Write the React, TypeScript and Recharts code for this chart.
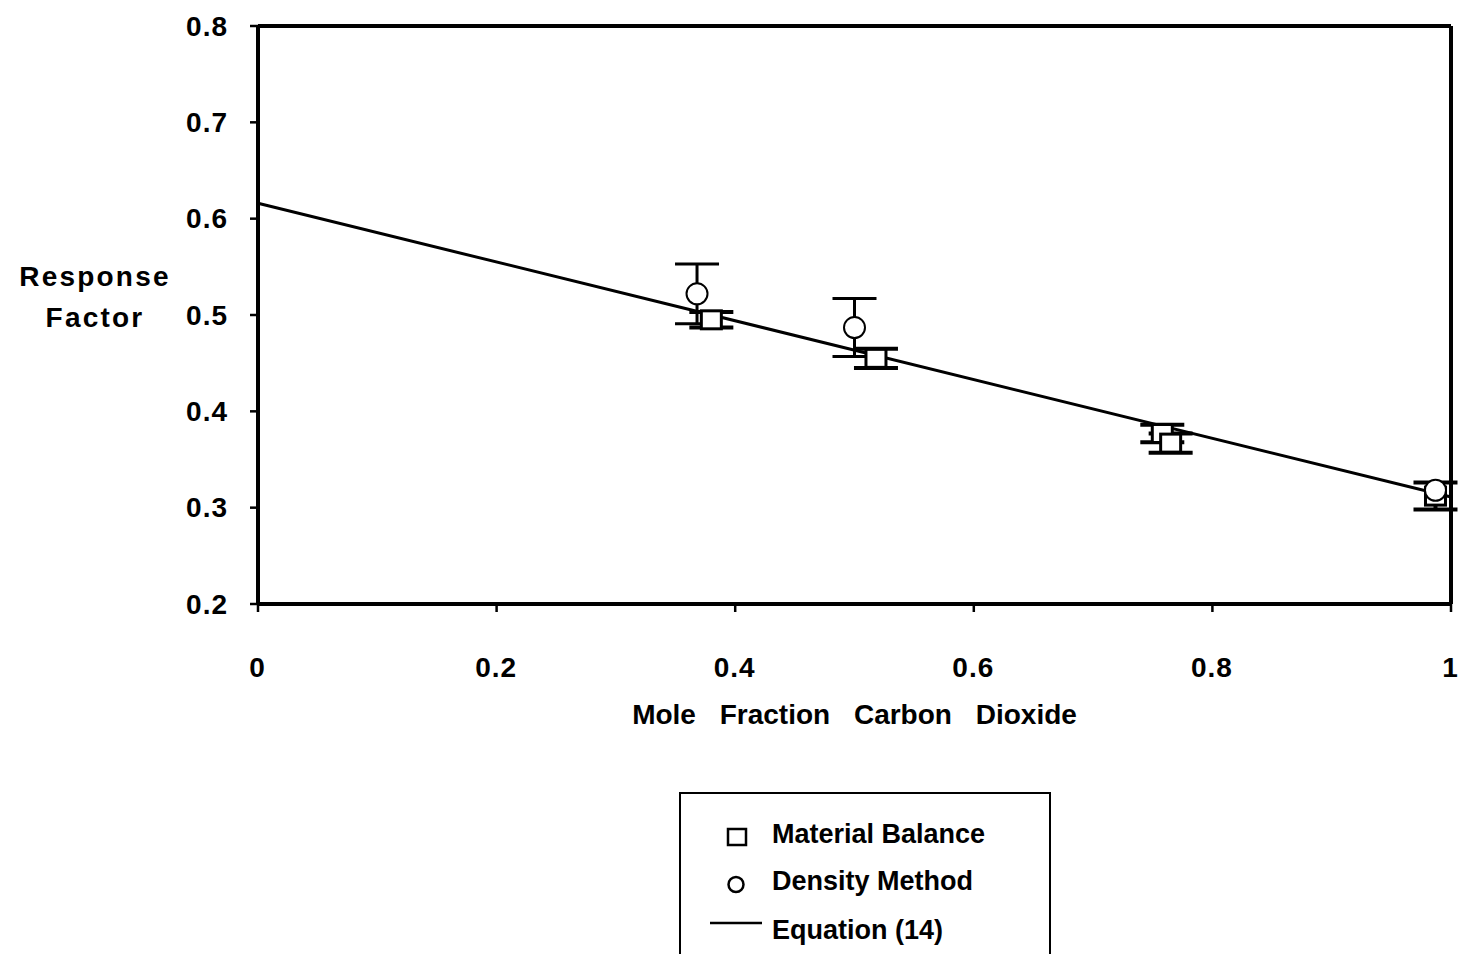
import React from 'react';
import {
  ComposedChart,
  XAxis,
  YAxis,
  Line,
  Scatter,
  ErrorBar,
  Legend,
  Label,
  ReferenceLine
} from 'recharts';

// Values
const xTicks = [0, 0.2, 0.4, 0.6, 0.8, 1];
const yTicks = [0.2, 0.3, 0.4, 0.5, 0.6, 0.7, 0.8];

// Material Balance (squares)
const mbX = [0.38, 0.518, 0.758, 0.765, 0.987];
const mbY = [0.495, 0.455, 0.377, 0.367, 0.312];
const mbErr = [0.008, 0.01, 0.009, 0.01, 0.014];

// Density Method (circles)
const dmX = [0.368, 0.5, 0.987];
const dmY = [0.522, 0.487, 0.318];
const dmErr = [0.031, 0.03, 0];

// Equation (14) end points
const eqX = [0, 1];
const eqY = [0.616, 0.311];

const materialBalance = mbX.map((x, i) => ({ x, y: mbY[i], err: mbErr[i] }));
const densityMethod = dmX.map((x, i) => ({ x, y: dmY[i], err: dmErr[i] }));
const equation = eqX.map((x, i) => ({ x, y: eqY[i] }));

const FONT = '"Liberation Sans", Arial, sans-serif';

const SquareShape = (props: any) => {
  const { cx, cy } = props;
  if (cx == null || cy == null) return null;
  return <rect x={cx - 10} y={cy - 9} width={20} height={18} fill="#fff" stroke="#000" strokeWidth={3} />;
};

const CircleShape = (props: any) => {
  const { cx, cy } = props;
  if (cx == null || cy == null) return null;
  return <circle cx={cx} cy={cy} r={10.5} fill="#fff" stroke="#000" strokeWidth={2} />;
};

const YTick = ({ x, y, payload }: any) => (
  <text x={x} y={y} textAnchor="end" dominantBaseline="central" fill="#000"
    style={{ fontFamily: FONT, fontSize: 28, fontWeight: 700, letterSpacing: 1 }}>
    {payload.value}
  </text>
);

const XTick = ({ x, y, payload }: any) => (
  <text x={x - 0.5} y={y} dy="0.72em" textAnchor="middle" fill="#000"
    style={{ fontFamily: FONT, fontSize: 28, fontWeight: 700, letterSpacing: 1 }}>
    {payload.value}
  </text>
);

const YTitle = ({ viewBox }: any) => {
  const cy = viewBox.y + viewBox.height / 2;
  return (
    <text textAnchor="middle" fill="#000"
      style={{ fontFamily: FONT, fontSize: 28, fontWeight: 700, letterSpacing: 2.2 }}>
      <tspan x={viewBox.x + 95} y={cy - 29}>Response</tspan>
      <tspan x={viewBox.x + 95} y={cy + 12}>Factor</tspan>
    </text>
  );
};

const XTitle = ({ viewBox }: any) => (
  <text x={viewBox.x + viewBox.width / 2} y={viewBox.y + 120} textAnchor="middle" fill="#000"
    style={{ fontFamily: FONT, fontSize: 28, fontWeight: 700, wordSpacing: 16 }}>
    Mole Fraction Carbon Dioxide
  </text>
);

const LegendBox = () => {
  const textStyle = { fontFamily: FONT, fontSize: 27, fontWeight: 700 };
  return (
    <div style={{ width: 372, height: 175, border: '2px solid #000', boxSizing: 'border-box', background: '#fff' }}>
      <svg width={368} height={171} style={{ display: 'block' }}>
        <rect x={47} y={35} width={18} height={16} fill="none" stroke="#000" strokeWidth={2.5} />
        <text x={91} y={48.5} style={textStyle} fill="#000">Material Balance</text>
        <circle cx={55} cy={90.5} r={7.5} fill="none" stroke="#000" strokeWidth={2.5} />
        <text x={91} y={96} style={textStyle} fill="#000">Density Method</text>
        <line x1={29} x2={81} y1={129} y2={129} stroke="#000" strokeWidth={2.5} />
        <text x={91} y={145} style={textStyle} fill="#000">Equation (14)</text>
      </svg>
    </div>
  );
};

const App = () => {
  return (
    <div style={{ position: 'absolute', top: 0, left: 0, width: 1459, height: 954, overflow: 'hidden', background: '#fff' }}>
      <ComposedChart width={1459} height={954} margin={{ top: 26, right: 8, left: 0, bottom: 0 }}>
        <XAxis
          dataKey="x"
          type="number"
          domain={[0, 1]}
          ticks={xTicks}
          height={350}
          axisLine={{ stroke: '#000', strokeWidth: 4 }}
          tickLine={{ stroke: '#000', strokeWidth: 2.5 }}
          tickSize={8}
          tickMargin={45}
          tick={<XTick />}
          interval={0}
        >
          <Label content={<XTitle />} />
        </XAxis>
        <YAxis
          type="number"
          domain={[0.2, 0.8]}
          ticks={yTicks}
          width={258}
          axisLine={{ stroke: '#000', strokeWidth: 4 }}
          tickLine={{ stroke: '#000', strokeWidth: 2.5 }}
          tickSize={8}
          tickMargin={22}
          tick={<YTick />}
          interval={0}
        >
          <Label content={<YTitle />} />
        </YAxis>
        {/* plot frame: top and right edges */}
        <ReferenceLine y={0.8} stroke="#000" strokeWidth={4} ifOverflow="visible" />
        <ReferenceLine x={1} stroke="#000" strokeWidth={4} ifOverflow="visible" />
        <Legend
          layout="horizontal"
          verticalAlign="middle"
          align="center"
          wrapperStyle={{ top: 792, left: 679, width: 372, height: 175 }}
          content={<LegendBox />}
        />
        <Line
          data={equation}
          dataKey="y"
          name="Equation (14)"
          stroke="#000"
          strokeWidth={3}
          dot={false}
          activeDot={false}
          isAnimationActive={false}
        />
        <Scatter
          data={materialBalance}
          dataKey="y"
          name="Material Balance"
          shape={<SquareShape />}
          isAnimationActive={false}
        >
          <ErrorBar dataKey="err" direction="y" width={22} stroke="#000" strokeWidth={4} />
        </Scatter>
        <Scatter
          data={densityMethod}
          dataKey="y"
          name="Density Method"
          shape={<CircleShape />}
          isAnimationActive={false}
        >
          <ErrorBar dataKey="err" direction="y" width={22} stroke="#000" strokeWidth={3} />
        </Scatter>
      </ComposedChart>
    </div>
  );
};

export default App;
